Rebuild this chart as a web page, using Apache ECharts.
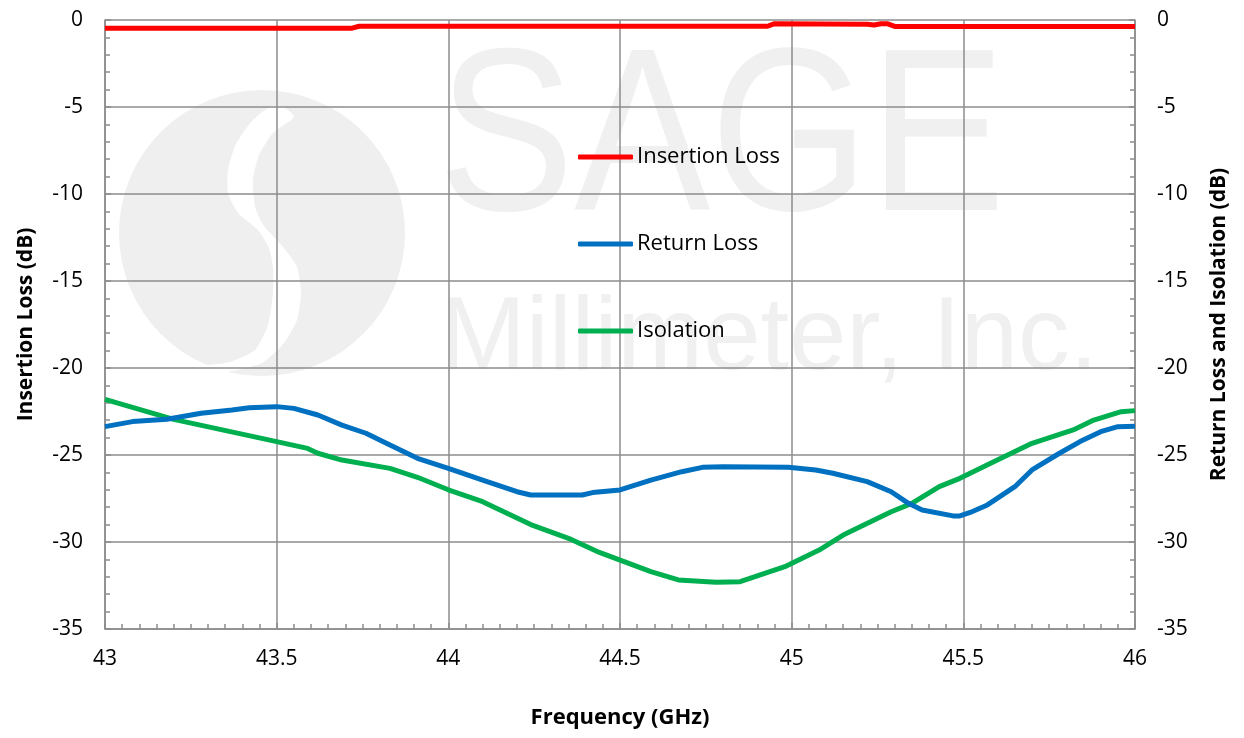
<!DOCTYPE html>
<html>
<head>
<meta charset="utf-8">
<script src="https://cdn.jsdelivr.net/npm/echarts@6/dist/echarts.min.js"></script>
<style>html,body{margin:0;padding:0;background:#fff}#c{width:1244px;height:738px}</style>
</head>
<body>
<div id="c"></div>
<script>
// ---- data ----
const xTicks = [43, 43.5, 44, 44.5, 45, 45.5, 46];
const yTicks = [0, -5, -10, -15, -20, -25, -30, -35];

const ilFreq = [43, 43.72, 43.74, 44.93, 44.95, 45.22, 45.24, 45.26, 45.28, 45.30, 46];
const ilVals = [-0.47, -0.47, -0.36, -0.36, -0.21, -0.24, -0.29, -0.22, -0.22, -0.37, -0.37];

const rlFreq = [43.0, 43.08, 43.18, 43.28, 43.37, 43.42, 43.50, 43.55, 43.62, 43.69, 43.76, 43.83, 43.91, 44.0, 44.10, 44.20, 44.24, 44.39, 44.42, 44.50, 44.59, 44.68, 44.74, 44.80, 44.99, 45.07, 45.12, 45.22, 45.29, 45.34, 45.38, 45.47, 45.49, 45.52, 45.57, 45.65, 45.70, 45.78, 45.84, 45.90, 45.95, 46.0];
const rlVals = [-23.37, -23.08, -22.95, -22.6, -22.41, -22.28, -22.22, -22.32, -22.7, -23.28, -23.75, -24.43, -25.19, -25.77, -26.44, -27.11, -27.3, -27.3, -27.16, -27.01, -26.44, -25.96, -25.71, -25.67, -25.71, -25.86, -26.05, -26.53, -27.11, -27.78, -28.16, -28.5, -28.5, -28.3, -27.87, -26.82, -25.86, -24.9, -24.23, -23.66, -23.37, -23.35];

const isoFreq = [43.0, 43.2, 43.5, 43.59, 43.62, 43.69, 43.83, 43.91, 44.0, 44.10, 44.24, 44.35, 44.44, 44.59, 44.67, 44.78, 44.85, 44.98, 45.08, 45.15, 45.29, 45.35, 45.43, 45.49, 45.59, 45.70, 45.82, 45.88, 45.96, 46.0];
const isoVals = [-21.8, -22.95, -24.23, -24.62, -24.9, -25.29, -25.77, -26.28, -27.0, -27.68, -29.0, -29.79, -30.6, -31.7, -32.18, -32.32, -32.28, -31.42, -30.46, -29.6, -28.26, -27.78, -26.82, -26.34, -25.38, -24.33, -23.56, -22.99, -22.51, -22.45];

const seriesNames = ['Insertion Loss', 'Return Loss', 'Isolation'];
const seriesColors = ['#ff0000', '#0070c0', '#00b050'];

const zip = (a, b) => a.map((v, i) => [v, b[i]]);

const FONT = 'Open Sans';
const gridColor = '#8c8c8c';

const chart = echarts.init(document.getElementById('c'), null, {renderer: 'canvas'});

function yAxis(name, pos, gap) {
  return {
    type: 'value', position: pos, min: yTicks[yTicks.length - 1], max: yTicks[0], interval: 5,
    name: name, nameLocation: 'middle', nameGap: gap,
    nameTextStyle: {fontFamily: FONT, fontWeight: 'bold', fontSize: 21, color: '#000'},
    axisLine: {show: true, onZero: false, lineStyle: {color: gridColor, width: 1.5}},
    axisTick: {show: true, inside: true, length: 6, lineStyle: {color: gridColor, width: 1.5}},
    minorTick: {show: true, splitNumber: 5, length: 5, lineStyle: {color: gridColor, width: 1.5}},
    splitLine: {show: pos === 'left', lineStyle: {color: gridColor, width: 1.5}},
    axisLabel: {fontFamily: FONT, fontSize: 21, color: '#000', margin: 22}
  };
}

// logo gap outline (decoration only)
const logoGap = [[270,107],[252,121],[236,144],[228,170],[228,193],[238,213],[258,230],[269,248],[273,268],[273,293],[268,325],[255,350],[230,362],[203,366],
                 [225,372],[262,363],[284,343],[297,320],[301,293],[297,267],[284,248],[264,226],[255,207],[253,180],[259,155],[273,133],[294,117],[285,108]];

const option = {
  animation: false,
  backgroundColor: '#fff',
  grid: {left: 105, right: 109, top: 20, bottom: 109, containLabel: false},
  graphic: [
    {type: 'circle', z: -10, shape: {cx: 262, cy: 233, r: 143}, style: {fill: '#efefef'}},
    {type: 'polygon', z: -9, shape: {points: logoGap, smooth: 0.2}, style: {fill: '#ffffff'}},
    {type: 'text', z: -10, x: 438, y: 262, scaleX: 0.88, style: {text: 'SAGE', font: '232px "Liberation Sans"', fill: '#f0f0f0', verticalAlign: 'bottom'}},
    {type: 'text', z: -10, x: 440, y: 392, style: {text: 'Millimeter, Inc.', font: '103px "Liberation Sans"', fill: '#f0f0f0', verticalAlign: 'bottom'}}
  ],
  legend: {
    orient: 'vertical', left: 578, top: 144, padding: 0, itemWidth: 55, itemHeight: 5, itemGap: 61,
    icon: 'roundRect',
    textStyle: {fontFamily: FONT, fontSize: 22, color: '#000', lineHeight: 26, padding: [0, 0, 0, -1]},
    data: seriesNames
  },
  xAxis: {
    type: 'value', min: xTicks[0], max: xTicks[xTicks.length - 1], interval: 0.5,
    name: 'Frequency (GHz)', nameLocation: 'middle', nameGap: 78,
    nameTextStyle: {fontFamily: FONT, fontWeight: 'bold', fontSize: 22, color: '#000'},
    axisLine: {show: true, onZero: false, lineStyle: {color: gridColor, width: 1.5}},
    axisTick: {show: true, inside: true, length: 6, lineStyle: {color: gridColor, width: 1.5}},
    minorTick: {show: true, splitNumber: 10, length: 5, lineStyle: {color: gridColor, width: 1.5}},
    splitLine: {show: true, lineStyle: {color: gridColor, width: 1.5}},
    axisLabel: {fontFamily: FONT, fontSize: 21, color: '#000', margin: 20}
  },
  yAxis: [
    yAxis('Insertion Loss (dB)', 'left', 68),
    yAxis('Return Loss and Isolation (dB)', 'right', 74)
  ],
  series: [
    {name: seriesNames[0], type: 'line', yAxisIndex: 0, data: zip(ilFreq, ilVals), showSymbol: false, symbol: 'none', color: seriesColors[0], lineStyle: {width: 5, color: seriesColors[0]}, z: 5},
    {name: seriesNames[1], type: 'line', yAxisIndex: 1, data: zip(rlFreq, rlVals), showSymbol: false, symbol: 'none', color: seriesColors[1], lineStyle: {width: 5, color: seriesColors[1]}, z: 4},
    {name: seriesNames[2], type: 'line', yAxisIndex: 1, data: zip(isoFreq, isoVals), showSymbol: false, symbol: 'none', color: seriesColors[2], lineStyle: {width: 5, color: seriesColors[2]}, z: 3}
  ]
};
chart.setOption(option);
</script>
</body>
</html>
